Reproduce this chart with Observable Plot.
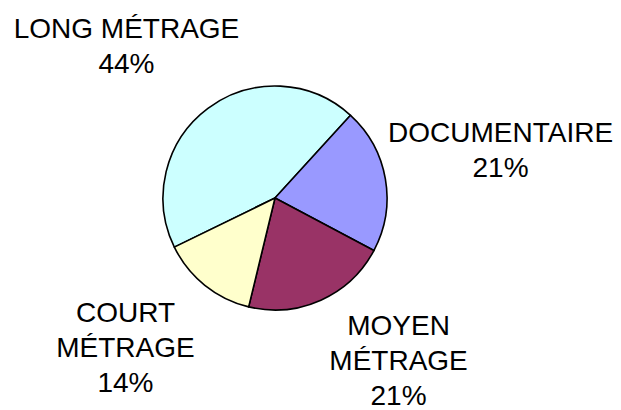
<!DOCTYPE html>
<html><head><meta charset="utf-8">
<script src="https://cdn.jsdelivr.net/npm/d3@7"></script>
<script src="https://cdn.jsdelivr.net/npm/@observablehq/plot@0.6"></script>
<style>body{margin:0;background:#fff}</style>
</head><body><div id="chart"></div>
<script>
const categories = ["LONG MÉTRAGE", "DOCUMENTAIRE", "MOYEN MÉTRAGE", "COURT MÉTRAGE"];
const labelLines = ["LONG MÉTRAGE", "DOCUMENTAIRE", "MOYEN\nMÉTRAGE", "COURT\nMÉTRAGE"];
const shares = [44, 21, 21, 14];
const colors = ["#CCFFFF", "#9999FF", "#993366", "#FFFFCC"];

// layout (not data): start angle of first slice and label nudges in px
const startDeg = 244;
const labelRadius = 1.75;
const labelNudge = [[-31.6, 2.5], [31.9, -16.6], [42.7, -18.5], [-27.2, -5.2]];
const R = 112;

const arcs = d3.pie().value(d => d).sort(null)
  .startAngle(startDeg * Math.PI / 180)
  .endAngle(startDeg * Math.PI / 180 + 2 * Math.PI)(shares);

const slices = categories.map((c, i) => {
  const mid = (arcs[i].startAngle + arcs[i].endAngle) / 2;
  return {
    category: c,
    share: shares[i],
    arc: arcs[i],
    lx: labelRadius * Math.sin(mid) + labelNudge[i][0] / R,
    ly: labelRadius * Math.cos(mid) - labelNudge[i][1] / R,
    text: labelLines[i] + "\n" + shares[i] + "%"
  };
});

const arcGen = d3.arc().innerRadius(0);

const chart = Plot.plot({
  width: 621,
  height: 410,
  margin: 0,
  style: {background: "#fff", fontFamily: "'Liberation Sans', Arial, sans-serif"},
  x: {domain: [-1, 1], range: [275 - R, 275 + R], axis: null},
  y: {domain: [-1, 1], range: [198 + R, 198 - R], axis: null},
  color: {type: "ordinal", domain: categories, range: colors},
  marks: [
    Plot.dot(slices, {
      x: () => 0, y: () => 0, fill: "category",
      render(index, scales, values) {
        const r = scales.x(1) - scales.x(0);
        const g = d3.create("svg:g");
        for (const i of index) {
          g.append("path")
            .attr("transform", `translate(${values.x[i]},${values.y[i]})`)
            .attr("d", arcGen.outerRadius(r)(slices[i].arc))
            .attr("fill", values.fill[i])
            .attr("stroke", "#000")
            .attr("stroke-width", 1.6)
            .attr("stroke-linejoin", "round");
        }
        return g.node();
      }
    }),
    Plot.text(slices, {
      x: "lx", y: "ly", text: "text",
      fontSize: 28, lineHeight: 1.25, fill: "#000",
      textAnchor: "middle", lineAnchor: "middle"
    })
  ]
});
document.getElementById("chart").appendChild(chart);
</script>
</body></html>
